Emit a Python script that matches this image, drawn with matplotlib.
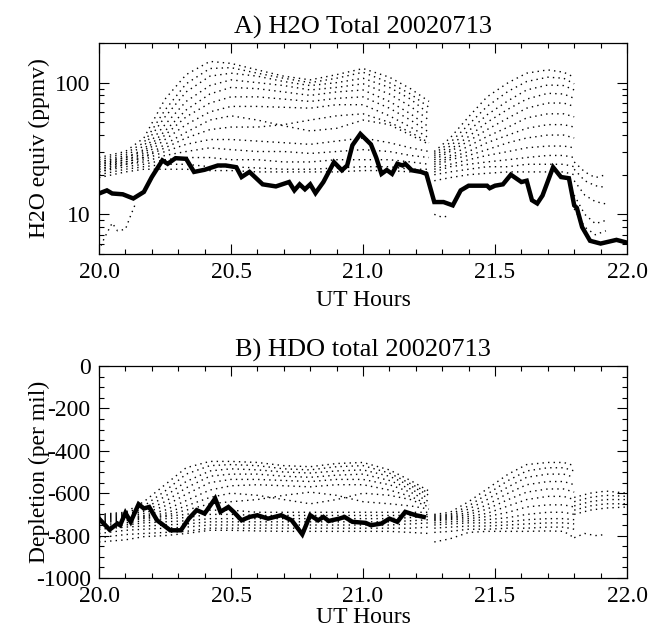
import numpy as np
import matplotlib
matplotlib.use("Agg")
import matplotlib.pyplot as plt
from matplotlib.ticker import MultipleLocator, FixedLocator, NullFormatter, LogLocator

plt.rcParams['font.family'] = ['Liberation Serif', 'DejaVu Serif']
plt.rcParams['axes.unicode_minus'] = False

# ---------------- data: panel A (H2O, ppmv) ----------------
t_h2o = [20.00, 20.03, 20.05, 20.09, 20.13, 20.17, 20.20, 20.24, 20.26, 20.29, 20.33,
         20.36, 20.40, 20.45, 20.48, 20.52, 20.54, 20.57, 20.62, 20.67, 20.72, 20.74,
         20.76, 20.78, 20.80, 20.82, 20.85, 20.89, 20.92, 20.94, 20.96, 20.99, 21.03,
         21.05, 21.07, 21.09, 21.11, 21.13, 21.15, 21.16, 21.185, 21.22, 21.24, 21.27,
         21.305, 21.34, 21.37, 21.40, 21.47, 21.48, 21.50, 21.53, 21.56, 21.60, 21.62,
         21.64, 21.66, 21.68, 21.72, 21.75, 21.78, 21.80, 21.81, 21.83, 21.86, 21.90,
         21.96, 22.00]
h2o_total = [14.4, 15.2, 14.4, 14.2, 13.2, 14.8, 19.2, 25.7, 24.2, 26.7, 26.4,
             21.0, 21.8, 23.5, 23.5, 22.8, 19.2, 21.0, 16.9, 16.3, 17.6, 15.2,
             16.9, 15.5, 16.9, 14.5, 17.6, 24.9, 21.6, 23.5, 33.5, 40.8, 34.0,
             27.0, 20.3, 21.7, 20.3, 24.2, 23.5, 24.2, 21.6, 21.0, 20.3, 12.4,
             12.4, 11.7, 15.2, 16.5, 16.5, 15.8, 16.5, 16.9, 20.0, 17.6, 18.0,
             12.8, 12.1, 13.9, 22.8, 19.2, 18.8, 11.7, 11.2, 8.0, 6.3, 6.0,
             6.4, 6.1]

# level curves, first hump
t_a1 = [20.00, 20.10, 20.17, 20.25, 20.33, 20.42, 20.50, 20.60, 20.70, 20.80, 20.90, 21.00, 21.10, 21.18, 21.25]
h2o_levels_a1 = [
    [27, 30, 38, 75, 115, 145, 140, 125, 112, 105, 115, 128, 110, 90, 72],
    [26, 29, 35, 62, 98, 128, 130, 118, 108, 100, 108, 120, 100, 82, 65],
    [25, 28, 33, 55, 85, 112, 118, 112, 102, 95, 100, 108, 92, 75, 58],
    [25, 27, 31, 48, 72, 95, 105, 100, 95, 88, 92, 98, 82, 66, 52],
    [24, 27, 30, 43, 62, 82, 92, 90, 85, 80, 85, 88, 72, 58, 46],
    [24, 26, 29, 40, 55, 70, 78, 78, 75, 72, 76, 78, 64, 52, 42],
    [23, 26, 28, 37, 48, 60, 66, 66, 65, 64, 68, 68, 56, 46, 38],
    [23, 25, 27, 34, 42, 52, 56, 52, 47, 43, 45, 52, 48, 40, 34],
    [22, 25, 27, 32, 38, 44, 46, 46, 48, 52, 56, 58, 50, 42, 35],
    [22, 24, 26, 30, 34, 37, 37, 36, 35, 34, 36, 38, 35, 32, 30],
    [21, 24, 25, 28, 30, 32, 31, 30, 30, 29, 30, 31, 30, 28, 27],
    [21, 23, 24, 26, 27, 27, 26, 26, 25, 25, 26, 26, 26, 25, 24],
    [20, 22, 23, 24, 24, 23, 23, 22.5, 22, 22, 22.5, 23, 23, 22, 22],
    [19, 21, 22, 22, 22, 21.5, 21.5, 21, 21, 21, 21, 21.5, 21.5, 21, 21],
]
t_a1_low = [20.00, 20.02, 20.05, 20.07, 20.10, 20.12, 20.14]
h2o_low_a1 = [5.3, 6.6, 8.6, 7.5, 7.7, 9.8, 12.3]

# second hump
t_a2 = [21.27, 21.33, 21.40, 21.47, 21.55, 21.62, 21.70, 21.76, 21.80]
h2o_levels_a2 = [
    [30, 38, 55, 78, 100, 118, 125, 120, 110],
    [29, 35, 48, 66, 86, 102, 110, 108, 98],
    [28, 33, 43, 57, 73, 88, 96, 95, 88],
    [27, 31, 39, 50, 63, 75, 83, 82, 76],
    [26, 30, 36, 44, 54, 64, 70, 70, 66],
    [25, 28, 33, 39, 46, 54, 58, 58, 55],
    [24, 27, 30, 35, 40, 45, 48, 48, 46],
    [23, 26, 28, 31, 35, 38, 40, 40, 38],
    [22, 24, 26, 28, 30, 32, 33, 33, 32],
    [21, 23, 24, 25, 26, 27, 28, 28, 27],
    [20, 21, 22, 23, 23, 24, 24, 24, 23],
    [18, 19, 20, 20.5, 21, 21, 21, 21, 20],
]
t_a2_low = [21.27, 21.30, 21.33]
h2o_low_a2 = [10.0, 9.5, 9.8]

# after 21.8
t_a3 = [21.80, 21.84, 21.88, 21.92]
h2o_levels_a3 = [
    [25, 21, 19, 20],
    [22, 18, 16.5, 16],
    [18, 14, 12.5, 12],
    [14, 10, 8.5, 9],
    [11, 8, 7, 7.5],
]

# ---------------- data: panel B (HDO, per mil) ----------------
t_hdo = [20.00, 20.04, 20.07, 20.08, 20.10, 20.12, 20.15, 20.17, 20.19, 20.22, 20.27,
         20.31, 20.34, 20.37, 20.40, 20.44, 20.46, 20.49, 20.51, 20.54, 20.57, 20.60,
         20.64, 20.69, 20.73, 20.77, 20.80, 20.83, 20.85, 20.87, 20.91, 20.93, 20.96,
         21.01, 21.03, 21.07, 21.10, 21.13, 21.16, 21.20, 21.23]
hdo_total = [-720, -772, -743, -751, -693, -735, -652, -672, -665, -728, -775,
             -775, -720, -680, -696, -625, -688, -665, -688, -728, -712, -704,
             -720, -704, -728, -794, -704, -728, -712, -731, -720, -712, -735,
             -740, -751, -743, -720, -735, -688, -704, -712]

hdo_levels_b1 = [
    [-700, -690, -640, -560, -480, -450, -450, -455, -470, -475, -460, -455, -490, -540, -590],
    [-705, -695, -660, -590, -510, -470, -465, -470, -485, -490, -475, -470, -505, -555, -600],
    [-710, -700, -675, -615, -545, -495, -485, -490, -500, -505, -495, -490, -520, -565, -610],
    [-715, -705, -685, -640, -575, -520, -510, -510, -520, -525, -515, -510, -540, -580, -625],
    [-720, -710, -695, -660, -605, -550, -535, -535, -540, -545, -535, -535, -560, -595, -640],
    [-725, -715, -705, -680, -635, -585, -565, -560, -565, -570, -560, -560, -585, -615, -655],
    [-730, -720, -710, -695, -660, -620, -600, -610, -630, -650, -630, -600, -610, -630, -665],
    [-735, -725, -715, -705, -680, -650, -640, -630, -610, -595, -610, -640, -650, -660, -675],
    [-740, -730, -720, -710, -700, -680, -680, -690, -690, -690, -690, -690, -690, -690, -690],
    [-750, -740, -730, -720, -715, -700, -700, -705, -705, -705, -705, -705, -705, -705, -700],
    [-760, -750, -740, -735, -730, -720, -720, -720, -720, -720, -720, -720, -720, -715, -710],
    [-770, -760, -755, -750, -745, -735, -735, -735, -735, -735, -735, -735, -735, -730, -725],
    [-790, -775, -770, -765, -760, -750, -750, -750, -750, -750, -750, -750, -750, -745, -740],
    [-810, -795, -790, -785, -780, -765, -765, -765, -765, -765, -765, -765, -765, -765, -760],
    [-830, -820, -805, -800, -790, -775, -775, -778, -780, -780, -780, -780, -780, -785, -790],
]

hdo_levels_b2 = [
    [-700, -690, -640, -580, -510, -465, -455, -455, -470],
    [-705, -700, -660, -605, -540, -495, -480, -480, -495],
    [-710, -705, -675, -630, -570, -525, -510, -510, -525],
    [-715, -710, -690, -655, -600, -560, -545, -545, -560],
    [-720, -715, -700, -675, -630, -595, -580, -580, -595],
    [-725, -720, -710, -695, -660, -630, -615, -615, -630],
    [-730, -725, -720, -710, -690, -665, -655, -655, -665],
    [-740, -735, -730, -725, -715, -700, -690, -690, -700],
    [-750, -745, -740, -740, -735, -725, -720, -720, -725],
    [-765, -760, -755, -755, -750, -745, -740, -740, -745],
    [-785, -780, -770, -770, -765, -765, -760, -760, -770],
    [-830, -815, -785, -780, -780, -780, -778, -780, -810],
]

t_b3 = [21.80, 21.86, 21.92, 22.00]
hdo_levels_b3 = [
    [-620, -600, -590, -600],
    [-640, -620, -610, -615],
    [-660, -640, -630, -630],
    [-680, -660, -650, -650],
    [-700, -680, -670, -665],
]
t_b3_low = [21.80, 21.84, 21.88, 21.92]
hdo_low_b3 = [-810, -790, -800, -795]

x_ticks = [20.0, 20.5, 21.0, 21.5, 22.0]
x_ticklabels = ['20.0', '20.5', '21.0', '21.5', '22.0']

# ---------------- figure ----------------
fig = plt.figure(figsize=(6.48, 6.32), dpi=100)
ax1 = fig.add_axes([99/648, 1 - 254/632, 528/648, 211/632])
ax2 = fig.add_axes([99/648, 1 - 578/632, 528/648, 212/632])

dot = dict(color='black', lw=1.0, linestyle=(0, (1.0, 3.0)))


def dotted(ax, t, curves):
    for c in curves:
        ax.plot(t, c, **dot)


dotted(ax1, t_a1, h2o_levels_a1)
dotted(ax1, t_a1_low, [h2o_low_a1])
dotted(ax1, t_a2, h2o_levels_a2)
dotted(ax1, t_a2_low, [h2o_low_a2])
dotted(ax1, t_a3, h2o_levels_a3)
ax1.plot(t_h2o, h2o_total, color='black', lw=3.2, solid_joinstyle='miter')

ax1.set_yscale('log')
ax1.set_ylim(5, 200)
ax1.yaxis.set_major_locator(FixedLocator([10, 100]))
ax1.set_yticklabels(['10', '100'])
ax1.yaxis.set_minor_locator(LogLocator(base=10, subs=np.arange(2, 10)))
ax1.yaxis.set_minor_formatter(NullFormatter())
ax1.set_ylabel('H2O equiv (ppmv)', fontsize=17)
ax1.set_title('A) H2O Total 20020713', fontsize=19, pad=7)
ax1.set_xlabel('UT Hours', fontsize=17, labelpad=5)

dotted(ax2, t_a1, hdo_levels_b1)
dotted(ax2, t_a2, hdo_levels_b2)
dotted(ax2, t_b3, hdo_levels_b3)
dotted(ax2, t_b3_low, [hdo_low_b3])
ax2.plot(t_hdo, hdo_total, color='black', lw=3.2, solid_joinstyle='miter')

ax2.set_ylim(-1000, 0)
ax2.yaxis.set_major_locator(MultipleLocator(200))
ax2.yaxis.set_minor_locator(MultipleLocator(50))
ax2.set_ylabel('Depletion (per mil)', fontsize=17)
ax2.set_title('B) HDO total 20020713', fontsize=19, pad=7)
ax2.set_xlabel('UT Hours', fontsize=17, labelpad=0)

for ax in (ax1, ax2):
    ax.set_xlim(20.0, 22.0)
    ax.set_xticks(x_ticks)
    ax.set_xticklabels(x_ticklabels)
    ax.xaxis.set_minor_locator(MultipleLocator(0.1))
    ax.tick_params(which='both', direction='in', top=True, right=True, labelsize=17)
    ax.tick_params(which='major', length=7, width=0.8, pad=6)
    ax.tick_params(which='minor', length=3.5, width=0.8)
    ax.yaxis.set_label_coords(-0.092, 0.5)
    for s in ax.spines.values():
        s.set_linewidth(0.9)

fig.savefig('out.png', dpi=100)
